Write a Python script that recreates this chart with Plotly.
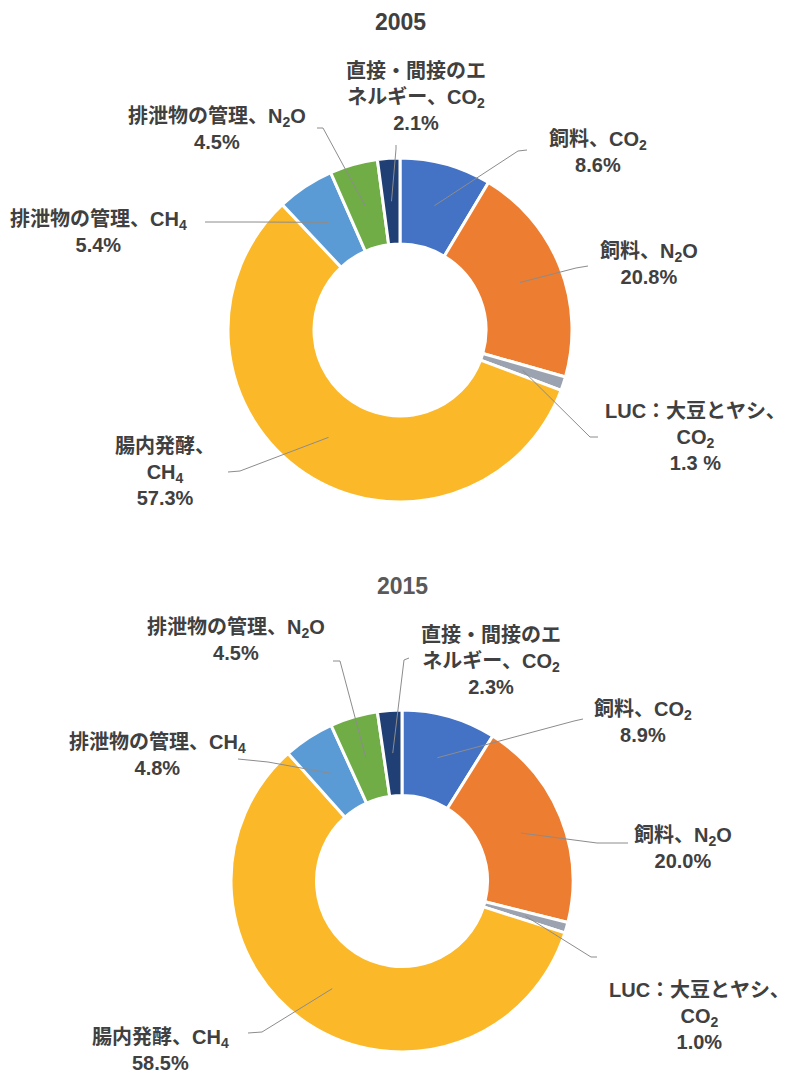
import math
import plotly.graph_objects as go

# The page body adds an 8px margin, so the figure is drawn 8px in from the
# top-left corner; positions below are in page pixels and shifted back.
PAGE_OFF = 8
W, H = 792 - PAGE_OFF, 1073 - PAGE_OFF

# ---------------- data ----------------
categories = [
    "飼料、CO2",
    "飼料、N2O",
    "LUC：大豆とヤシ、CO2",
    "腸内発酵、CH4",
    "排泄物の管理、CH4",
    "排泄物の管理、N2O",
    "直接・間接のエネルギー、CO2",
]
values_2005 = [8.6, 20.8, 1.3, 57.3, 5.4, 4.5, 2.1]
values_2015 = [8.9, 20.0, 1.0, 58.5, 4.8, 4.5, 2.3]
colors = ["#4472C4", "#ED7D31", "#9BA3B0", "#FBB829", "#5B9BD5", "#70AD47", "#203F74"]

label_tpl_2005 = [
    "飼料、CO<sub>2</sub><br>{v:.1f}%",
    "飼料、N<sub>2</sub>O<br>{v:.1f}%",
    "LUC：大豆とヤシ、<br>CO<sub>2</sub><br>{v:.1f} %",
    "腸内発酵、<br>CH<sub>4</sub><br>{v:.1f}%",
    "排泄物の管理、CH<sub>4</sub><br>{v:.1f}%",
    "排泄物の管理、N<sub>2</sub>O<br>{v:.1f}%",
    "直接・間接のエ<br>ネルギー、CO<sub>2</sub><br>{v:.1f}%",
]
label_tpl_2015 = [
    "飼料、CO<sub>2</sub><br>{v:.1f}%",
    "飼料、N<sub>2</sub>O<br>{v:.1f}%",
    "LUC：大豆とヤシ、<br>CO<sub>2</sub><br>{v:.1f}%",
    "腸内発酵、CH<sub>4</sub><br>{v:.1f}%",
    "排泄物の管理、CH<sub>4</sub><br>{v:.1f}%",
    "排泄物の管理、N<sub>2</sub>O<br>{v:.1f}%",
    "直接・間接のエ<br>ネルギー、CO<sub>2</sub><br>{v:.1f}%",
]

# ---------------- layout positions (page pixels) ----------------
charts = [
    dict(year="2005", values=values_2005, tpl=label_tpl_2005,
         cx=400, cy=330, r=172, title_y=22, title_color="#404040",
         label_pos=[(598, 152), (649, 264), (695, 437), (165, 472),
                    (98, 232), (217, 129), (416, 97)],
         tails=[((527, 150), (518, 151)), ((588, 266), (576, 268)),
                ((598, 437), (590, 437)), ((228, 472), (240, 471)),
                ((205, 222), (255, 222)), ((317, 128), (323, 128)),
                ((396, 145), (396, 149))]),
    dict(year="2015", values=values_2015, tpl=label_tpl_2015,
         cx=402, cy=881, r=171, title_y=586, title_color="#595959",
         label_pos=[(643, 722), (683, 848), (699, 1016), (160, 1050),
                    (157, 755), (236, 640), (491, 661)],
         tails=[((583, 719), (574, 721)), ((628, 843), (597, 843)),
                ((597, 957), (591, 957)), ((248, 1033), (262, 1032)),
                ((238, 759), (268, 762)), ((333, 661), (340, 661)),
                ((409, 658), (404, 660))]),
]

HOLE = 0.5
TEXT_COLOR = "#404040"
FONT = "Liberation Sans, Arial, Noto Sans CJK JP, sans-serif"


def px(x):
    return (x - PAGE_OFF) / W


def py(y):
    return 1 - (y - PAGE_OFF) / H


fig = go.Figure()
annotations = []
shapes = []

for ch in charts:
    cx, cy, r = ch["cx"], ch["cy"], ch["r"]
    fig.add_trace(go.Pie(
        labels=categories,
        values=ch["values"],
        hole=HOLE,
        sort=False,
        direction="clockwise",
        rotation=0,
        marker=dict(colors=colors, line=dict(color="white", width=3)),
        textinfo="none",
        hovertemplate="%{label}: %{value}%<extra>" + ch["year"] + "</extra>",
        showlegend=False,
        domain=dict(x=[px(cx - r), px(cx + r)], y=[py(cy + r), py(cy - r)]),
    ))

    annotations.append(dict(
        x=px(cx), y=py(ch["title_y"]), xref="paper", yref="paper",
        text=ch["year"], showarrow=False,
        font=dict(family=FONT, size=23, color=ch["title_color"], weight="bold"),
        xanchor="center", yanchor="middle",
    ))

    total = sum(ch["values"])
    cum = 0.0
    rmid = r * (1 + HOLE) / 2
    for i, v in enumerate(ch["values"]):
        mid = (cum + v / 2) / total * 2 * math.pi
        cum += v
        hx = cx + rmid * math.sin(mid)
        hy = cy - rmid * math.cos(mid)
        (tx, ty), (ex, ey) = ch["tails"][i]
        shapes.append(dict(
            type="path", xref="paper", yref="paper",
            path=f"M {px(tx)},{py(ty)} L {px(ex)},{py(ey)} L {px(hx)},{py(hy)}",
            line=dict(color="#8C8C8C", width=1),
        ))
        lx, ly = ch["label_pos"][i]
        annotations.append(dict(
            x=px(lx), y=py(ly), xref="paper", yref="paper",
            text=ch["tpl"][i].format(v=v),
            showarrow=False, align="center",
            xanchor="center", yanchor="middle",
            font=dict(family=FONT, size=20, color=TEXT_COLOR, weight="bold"),
        ))

fig.update_layout(
    width=W, height=H,
    margin=dict(l=0, r=0, t=0, b=0),
    paper_bgcolor="white", plot_bgcolor="white",
    annotations=annotations,
    shapes=shapes,
)

fig.write_html("out.html")
